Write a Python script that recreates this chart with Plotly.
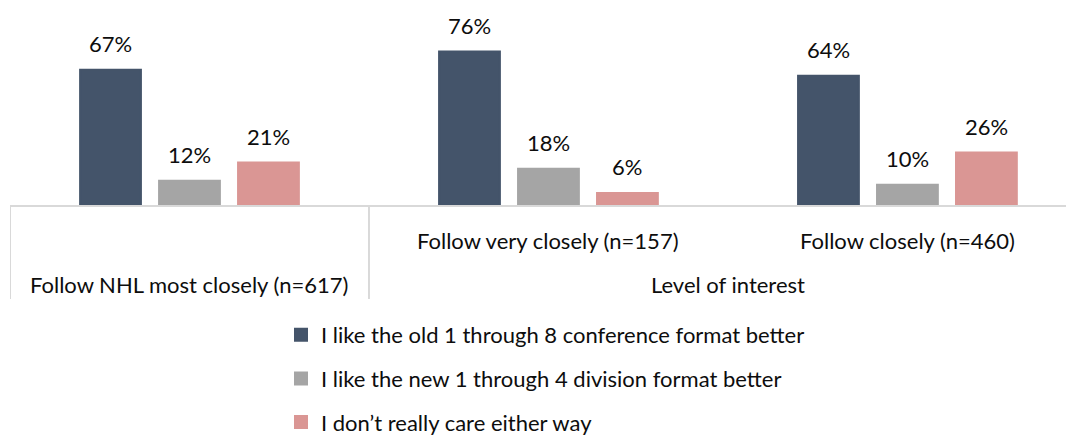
import plotly.graph_objects as go

categories = ["Follow NHL most closely (n=617)", "Follow very closely (n=157)", "Follow closely (n=460)"]
inner_labels = ["", "Follow very closely (n=157)", "Follow closely (n=460)"]
outer_labels = ["Follow NHL most closely (n=617)", "Level of interest"]
outer_positions = [0, 1.5]

series_names = [
    "I like the old 1 through 8 conference format better",
    "I like the new 1 through 4 division format better",
    "I don\u2019t really care either way",
]
old_format = [67, 76, 64]
new_format = [12, 18, 10]
dont_care = [21, 6, 26]
series_values = [old_format, new_format, dont_care]
colors = ["#44546A", "#A5A5A5", "#DA9694"]

FONT = "Lato"
FS = 22
TXT = "#0d0d0d"
GRID = "#D9D9D9"

fig = go.Figure()
for i, (name, vals, col) in enumerate(zip(series_names, series_values, colors)):
    fig.add_trace(go.Bar(
        x=categories, y=vals, name=name,
        marker=dict(color=col, line=dict(color=col, width=2)),
        legendgroup=f"g{i}",
        hoverinfo="skip",
    ))

annotations = []
# data labels
for i, vals in enumerate(series_values):
    for c, v in zip(categories, vals):
        annotations.append(dict(
            x=c, y=v, xref="x", yref="y", text=f"{v}%", showarrow=False,
            xshift=(i - 1) * 79, yshift=26, yanchor="middle",
            font=dict(family=FONT, size=FS, color=TXT),
        ))
# inner category labels
for idx, lab in enumerate(inner_labels):
    if lab:
        annotations.append(dict(
            x=idx, y=-0.178, xref="x", yref="paper", text=lab, showarrow=False,
            yanchor="middle", font=dict(family=FONT, size=FS, color=TXT),
        ))
# outer labels
for pos, lab in zip(outer_positions, outer_labels):
    annotations.append(dict(
        x=pos, y=-0.406, xref="x", yref="paper", text=lab, showarrow=False,
        yanchor="middle", font=dict(family=FONT, size=FS, color=TXT),
    ))

shapes = []
for xb in [-0.5, 0.5]:
    shapes.append(dict(type="line", xref="x", yref="paper", x0=xb, x1=xb,
                       y0=0, y1=-0.477, line=dict(color=GRID, width=2)))

fig.update_layout(
    width=1066, height=427,
    margin=dict(l=2, r=0, t=0, b=230, autoexpand=False),
    paper_bgcolor="white", plot_bgcolor="white",
    barmode="group", bargap=0.34, bargroupgap=0.23,
    font=dict(family=FONT, size=FS, color=TXT),
    xaxis=dict(type="category", range=[-0.5, 2.464], showticklabels=False,
               showline=True, linecolor=GRID, linewidth=1.5, showgrid=False,
               zeroline=False, ticks=""),
    yaxis=dict(range=[0, 97.5], visible=False, showgrid=False, zeroline=False),
    showlegend=True,
    legend=dict(orientation="v", x=0.2547, xanchor="left", y=-0.5536, yanchor="top",
                font=dict(family=FONT, size=FS, color=TXT), tracegroupgap=12,
                itemclick=False, itemdoubleclick=False, bgcolor="rgba(0,0,0,0)"),
    annotations=annotations,
    shapes=shapes,
)

fig.write_html("out.html")
